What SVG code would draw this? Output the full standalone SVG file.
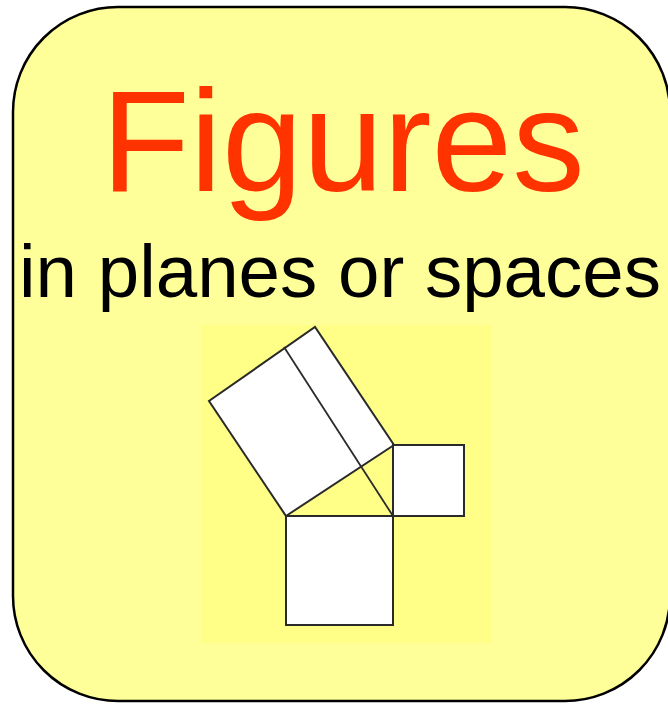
<svg xmlns="http://www.w3.org/2000/svg" width="668" height="704" viewBox="0 0 668 704">
<style>
.t{font-family:"Liberation Sans",Arial,sans-serif;text-anchor:middle}
.sq{fill:#fff;stroke:#2a2a2a;stroke-width:2;stroke-linejoin:miter}
.ln{stroke:#2a2a2a;stroke-width:1.8;fill:none}
</style>
<g id="card">
<rect x="13" y="7" width="657" height="694" rx="105" ry="105" fill="#FFFF99" stroke="#000" stroke-width="2.5"/>
<text class="t" x="343" y="191" font-size="145" fill="#FF3300">Figures</text>
<text class="t" x="340" y="297" font-size="74.5" fill="#000">in planes or spaces</text>
</g>
<g id="figure">
<rect x="202" y="325" width="289" height="318" fill="#FFFF88"/>
<polygon class="sq" points="286,516 394,445 315,327 209,401"/>
<rect class="sq" x="286" y="516" width="107" height="109"/>
<rect class="sq" x="393" y="445" width="71" height="71"/>
<line class="ln" x1="393" y1="516" x2="284" y2="347"/>
</g>
</svg>
